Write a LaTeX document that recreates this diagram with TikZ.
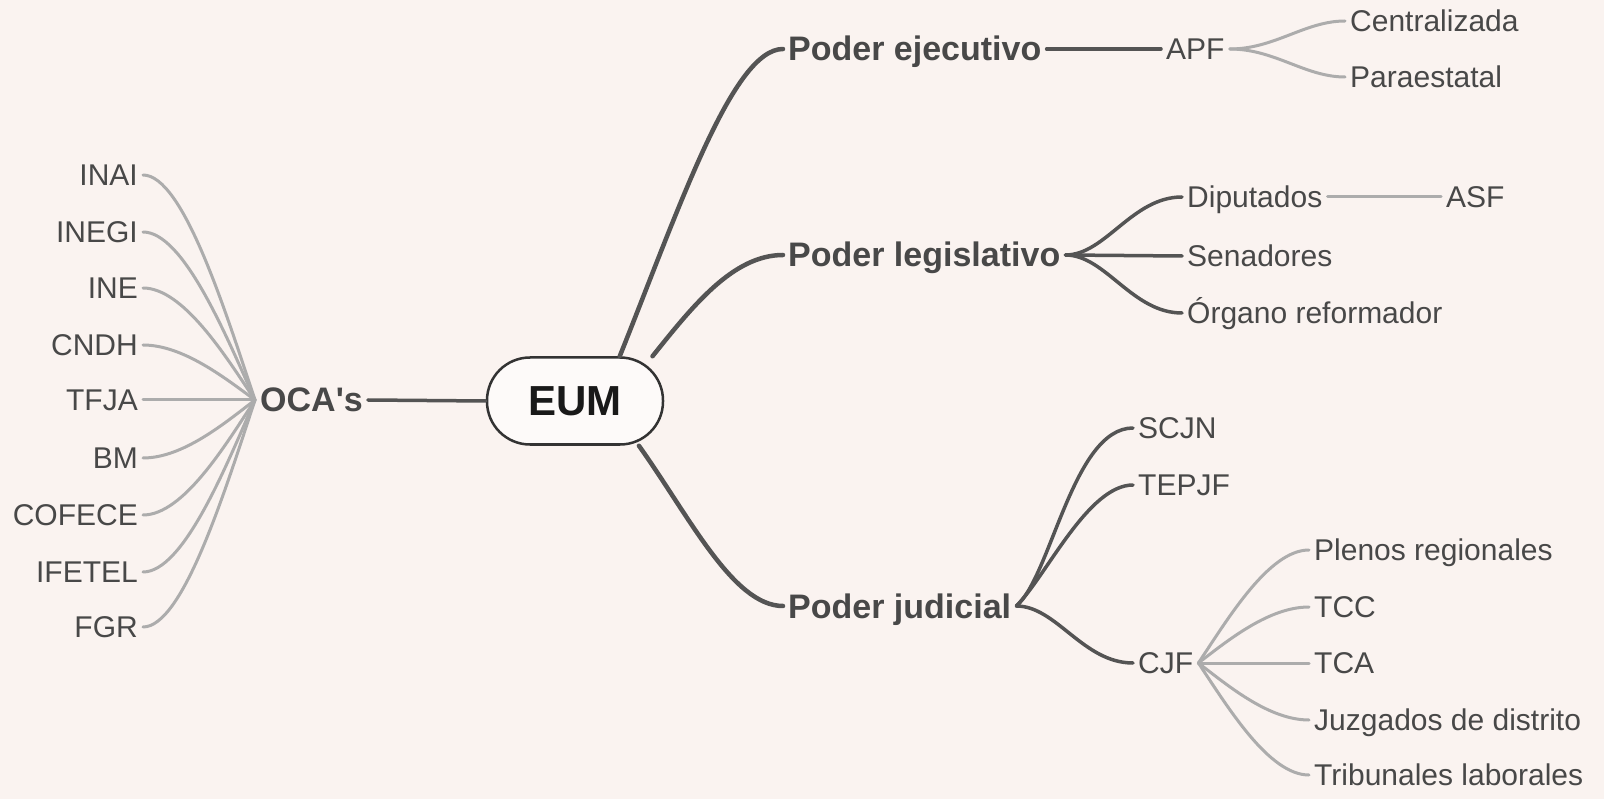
\documentclass[tikz,border=0pt]{standalone}
\usepackage{fontspec}
\setmainfont{Liberation Sans}
\definecolor{bg}{RGB}{250,243,240}
\definecolor{darkline}{RGB}{84,84,84}
\definecolor{lightline}{RGB}{172,172,172}
\definecolor{labeltext}{RGB}{72,72,72}

\begin{document}
\begin{tikzpicture}[x=1pt,y=-1pt,line cap=round,
	main node/.style={draw=black!80,line width=2.5pt,rounded corners=43pt,fill=white!60!bg,
		minimum width=176pt,minimum height=87pt,font=\fontsize{42}{42}\selectfont\bfseries,text=black!90},
	branch node/.style={inner xsep=5pt,inner ysep=0pt,text height=24pt,text depth=0pt,
		font=\fontsize{34}{34}\selectfont\bfseries,text=labeltext},
	leaf node/.style={inner xsep=5pt,inner ysep=0pt,text height=21.5pt,text depth=0pt,
		font=\fontsize{30}{30}\selectfont,text=labeltext},
	dark/.style={draw=darkline,line width=4.5pt},
	dark2/.style={draw=darkline,line width=3.5pt},
	light/.style={draw=lightline,line width=3pt}]

	\fill[bg] (0,0) rectangle (1604,799);

	\node[main node] (eum) at (575,401) {EUM};
	\node[branch node,anchor=west] (oca) at (255,400) {OCA\textquotesingle s};
	\node[branch node,anchor=west] (pe) at (783,49) {Poder ejecutivo};
	\node[branch node,anchor=west] (pl) at (783,255) {Poder legislativo};
	\node[branch node,anchor=west] (pj) at (783,606) {Poder judicial};

	\node[leaf node,anchor=west] (apf) at (1161,49) {APF};
	\node[leaf node,anchor=west] (cen) at (1345,21) {Centralizada};
	\node[leaf node,anchor=west] (par) at (1345,77) {Paraestatal};

	\node[leaf node,anchor=west] (dip) at (1182,197) {Diputados};
	\node[leaf node,anchor=west] (asf) at (1441,197) {ASF};
	\node[leaf node,anchor=west] (sen) at (1182,256) {Senadores};
	\node[leaf node,anchor=west] (org) at (1182,313) {Órgano reformador};

	\node[leaf node,anchor=west] (scjn) at (1133,428) {SCJN};
	\node[leaf node,anchor=west] (tepjf) at (1133,485) {TEPJF};
	\node[leaf node,anchor=west] (cjf) at (1133,663) {CJF};
	\node[leaf node,anchor=west] (plen) at (1309,550) {Plenos regionales};
	\node[leaf node,anchor=west] (tcc) at (1309,607) {TCC};
	\node[leaf node,anchor=west] (tca) at (1309,663) {TCA};
	\node[leaf node,anchor=west] (juz) at (1309,720) {Juzgados de distrito};
	\node[leaf node,anchor=west] (trib) at (1309,775) {Tribunales laborales};

	\node[leaf node,anchor=east] (inai) at (143,175) {INAI};
	\node[leaf node,anchor=east] (inegi) at (143,232) {INEGI};
	\node[leaf node,anchor=east] (ine) at (143,288) {INE};
	\node[leaf node,anchor=east] (cndh) at (143,345) {CNDH};
	\node[leaf node,anchor=east] (tfja) at (143,400) {TFJA};
	\node[leaf node,anchor=east] (bm) at (143,458) {BM};
	\node[leaf node,anchor=east] (cofece) at (143,515) {COFECE};
	\node[leaf node,anchor=east] (ifetel) at (143,572) {IFETEL};
	\node[leaf node,anchor=east] (fgr) at (143,627) {FGR};

	% main branches
	\draw[dark] (eum.45) .. controls +(60,-150) and +(-50,0) .. (pe.west);
	\draw[dark] (eum.30) .. controls +(40,-50) and +(-50,0) .. (pl.west);
	\draw[dark] (eum.-35) .. controls +(50,70) and +(-50,0) .. (pj.west);
	\draw[dark2] (oca.east) -- (eum.west);

	% ejecutivo
	\draw[dark2] (pe.east) -- (apf.west);
	\draw[light] (apf.east) .. controls +(45,0) and +(-40,0) .. (cen.west);
	\draw[light] (apf.east) .. controls +(45,0) and +(-40,0) .. (par.west);

	% legislativo
	\draw[dark2] (pl.east) .. controls +(40,0) and +(-50,0) .. (dip.west);
	\draw[dark2] (pl.east) -- (sen.west);
	\draw[dark2] (pl.east) .. controls +(40,0) and +(-50,0) .. (org.west);
	\draw[light] (dip.east) -- (asf.west);

	% judicial
	\draw[dark2] (pj.east) .. controls +(35,-30) and +(-60,0) .. (scjn.west);
	\draw[dark2] (pj.east) .. controls +(30,-30) and +(-45,0) .. (tepjf.west);
	\draw[dark2] (pj.east) .. controls +(40,0) and +(-50,0) .. (cjf.west);
	\draw[light] (cjf.east) .. controls +(30,-45) and +(-40,0) .. (plen.west);
	\draw[light] (cjf.east) .. controls +(30,-23) and +(-40,0) .. (tcc.west);
	\draw[light] (cjf.east) -- (tca.west);
	\draw[light] (cjf.east) .. controls +(30,23) and +(-40,0) .. (juz.west);
	\draw[light] (cjf.east) .. controls +(30,45) and +(-40,0) .. (trib.west);

	% OCA's
	\draw[light] (oca.west) .. controls +(-30,-90) and +(40,0) .. (inai.east);
	\draw[light] (oca.west) .. controls +(-30,-67) and +(40,0) .. (inegi.east);
	\draw[light] (oca.west) .. controls +(-30,-45) and +(40,0) .. (ine.east);
	\draw[light] (oca.west) .. controls +(-30,-22) and +(40,0) .. (cndh.east);
	\draw[light] (oca.west) -- (tfja.east);
	\draw[light] (oca.west) .. controls +(-30,23) and +(40,0) .. (bm.east);
	\draw[light] (oca.west) .. controls +(-30,46) and +(40,0) .. (cofece.east);
	\draw[light] (oca.west) .. controls +(-30,69) and +(40,0) .. (ifetel.east);
	\draw[light] (oca.west) .. controls +(-30,91) and +(40,0) .. (fgr.east);
\end{tikzpicture}
\end{document}
